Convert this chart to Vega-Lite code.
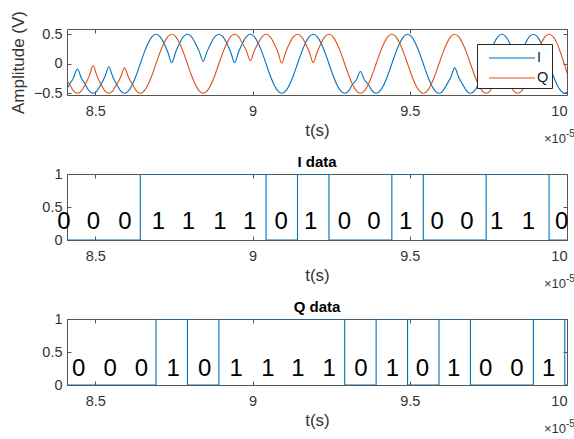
{
  "$schema": "https://vega.github.io/schema/vega-lite/v6.json",
  "padding": {"top": 10, "left": 8, "right": 0, "bottom": 0},
  "background": "white",
  "spacing": 7,
  "config": {
    "font": "Liberation Sans",
    "view": {"stroke": "#555555", "strokeWidth": 1},
    "axis": {"grid": false, "domain": false, "tickColor": "#555555", "tickSize": -4, "labelColor": "#333333", "labelFont": "Liberation Sans", "labelFontSize": 14.5, "titleFont": "Liberation Sans", "titleFontWeight": "normal", "titleColor": "#333333", "titleFontSize": 17},
    "title": {"font": "Liberation Sans", "fontSize": 15, "fontWeight": "bold", "color": "#000000", "offset": -4}
  },
  "datasets": {
    "wave": [
      {"t":8.393,"I":-0.5,"Q":-0.06},
      {"t":8.4055,"I":-0.46,"Q":-0.23},{"t":8.418,"I":-0.35,"Q":-0.35},{"t":8.4305,"I":-0.24,"Q":-0.46},{"t":8.443,"I":-0.09,"Q":-0.5},{"t":8.4555,"I":-0.24,"Q":-0.46},{"t":8.468,"I":-0.35,"Q":-0.35},{"t":8.4805,"I":-0.46,"Q":-0.21},{"t":8.493,"I":-0.5,"Q":-0.03},
      {"t":8.5055,"I":-0.46,"Q":-0.21},{"t":8.518,"I":-0.35,"Q":-0.35},{"t":8.5305,"I":-0.22,"Q":-0.46},{"t":8.543,"I":-0.05,"Q":-0.5},{"t":8.5555,"I":-0.22,"Q":-0.46},{"t":8.568,"I":-0.35,"Q":-0.35},{"t":8.5805,"I":-0.46,"Q":-0.23},{"t":8.593,"I":-0.5,"Q":-0.07},
      {"t":8.6055,"I":-0.46,"Q":-0.23},{"t":8.618,"I":-0.35,"Q":-0.35},{"t":8.6305,"I":-0.19,"Q":-0.46},{"t":8.643,"I":0,"Q":-0.5},{"t":8.6555,"I":0.19,"Q":-0.46},{"t":8.668,"I":0.35,"Q":-0.35},{"t":8.6805,"I":0.46,"Q":-0.19},{"t":8.693,"I":0.5,"Q":0},
      {"t":8.7055,"I":0.46,"Q":0.19},{"t":8.718,"I":0.35,"Q":0.35},{"t":8.7305,"I":0.2,"Q":0.46},{"t":8.743,"I":0.02,"Q":0.5},{"t":8.7555,"I":0.2,"Q":0.46},{"t":8.768,"I":0.35,"Q":0.35},{"t":8.7805,"I":0.46,"Q":0.19},{"t":8.793,"I":0.5,"Q":0},
      {"t":8.8055,"I":0.46,"Q":-0.19},{"t":8.818,"I":0.35,"Q":-0.35},{"t":8.8305,"I":0.21,"Q":-0.46},{"t":8.843,"I":0.04,"Q":-0.5},{"t":8.8555,"I":0.21,"Q":-0.46},{"t":8.868,"I":0.35,"Q":-0.35},{"t":8.8805,"I":0.46,"Q":-0.19},{"t":8.893,"I":0.5,"Q":0},
      {"t":8.9055,"I":0.46,"Q":0.19},{"t":8.918,"I":0.35,"Q":0.35},{"t":8.9305,"I":0.2,"Q":0.46},{"t":8.943,"I":0.02,"Q":0.5},{"t":8.9555,"I":0.2,"Q":0.46},{"t":8.968,"I":0.35,"Q":0.35},{"t":8.9805,"I":0.46,"Q":0.22},{"t":8.993,"I":0.5,"Q":0.05},
      {"t":9.0055,"I":0.46,"Q":0.22},{"t":9.018,"I":0.35,"Q":0.35},{"t":9.0305,"I":0.19,"Q":0.46},{"t":9.043,"I":0,"Q":0.5},{"t":9.0555,"I":-0.19,"Q":0.46},{"t":9.068,"I":-0.35,"Q":0.35},{"t":9.0805,"I":-0.46,"Q":0.2},{"t":9.093,"I":-0.5,"Q":0.01},
      {"t":9.1055,"I":-0.46,"Q":0.2},{"t":9.118,"I":-0.35,"Q":0.35},{"t":9.1305,"I":-0.19,"Q":0.46},{"t":9.143,"I":0,"Q":0.5},{"t":9.1555,"I":0.19,"Q":0.46},{"t":9.168,"I":0.35,"Q":0.35},{"t":9.1805,"I":0.46,"Q":0.2},{"t":9.193,"I":0.5,"Q":0.02},
      {"t":9.2055,"I":0.46,"Q":0.2},{"t":9.218,"I":0.35,"Q":0.35},{"t":9.2305,"I":0.19,"Q":0.46},{"t":9.243,"I":0,"Q":0.5},{"t":9.2555,"I":-0.19,"Q":0.46},{"t":9.268,"I":-0.35,"Q":0.35},{"t":9.2805,"I":-0.46,"Q":0.19},{"t":9.293,"I":-0.5,"Q":0},
      {"t":9.3055,"I":-0.46,"Q":-0.19},{"t":9.318,"I":-0.35,"Q":-0.35},{"t":9.3305,"I":-0.27,"Q":-0.46},{"t":9.343,"I":-0.13,"Q":-0.5},{"t":9.3555,"I":-0.27,"Q":-0.46},{"t":9.368,"I":-0.35,"Q":-0.35},{"t":9.3805,"I":-0.46,"Q":-0.19},{"t":9.393,"I":-0.5,"Q":0},
      {"t":9.4055,"I":-0.46,"Q":0.19},{"t":9.418,"I":-0.35,"Q":0.35},{"t":9.4305,"I":-0.19,"Q":0.46},{"t":9.443,"I":0,"Q":0.5},{"t":9.4555,"I":0.19,"Q":0.46},{"t":9.468,"I":0.35,"Q":0.35},{"t":9.4805,"I":0.46,"Q":0.19},{"t":9.493,"I":0.5,"Q":0},
      {"t":9.5055,"I":0.46,"Q":-0.19},{"t":9.518,"I":0.35,"Q":-0.35},{"t":9.5305,"I":0.19,"Q":-0.46},{"t":9.543,"I":0,"Q":-0.5},{"t":9.5555,"I":-0.19,"Q":-0.46},{"t":9.568,"I":-0.35,"Q":-0.35},{"t":9.5805,"I":-0.46,"Q":-0.19},{"t":9.593,"I":-0.5,"Q":0},
      {"t":9.6055,"I":-0.46,"Q":0.19},{"t":9.618,"I":-0.35,"Q":0.35},{"t":9.6305,"I":-0.23,"Q":0.46},{"t":9.643,"I":-0.07,"Q":0.5},{"t":9.6555,"I":-0.23,"Q":0.46},{"t":9.668,"I":-0.35,"Q":0.35},{"t":9.6805,"I":-0.46,"Q":0.19},{"t":9.693,"I":-0.5,"Q":0},
      {"t":9.7055,"I":-0.46,"Q":-0.19},{"t":9.718,"I":-0.35,"Q":-0.35},{"t":9.7305,"I":-0.19,"Q":-0.46},{"t":9.743,"I":0,"Q":-0.5},{"t":9.7555,"I":0.19,"Q":-0.46},{"t":9.768,"I":0.35,"Q":-0.35},{"t":9.7805,"I":0.46,"Q":-0.23},{"t":9.793,"I":0.5,"Q":-0.06},
      {"t":9.8055,"I":0.46,"Q":-0.23},{"t":9.818,"I":0.35,"Q":-0.35},{"t":9.8305,"I":0.2,"Q":-0.46},{"t":9.843,"I":0.03,"Q":-0.5},{"t":9.8555,"I":0.2,"Q":-0.46},{"t":9.868,"I":0.35,"Q":-0.35},{"t":9.8805,"I":0.46,"Q":-0.19},{"t":9.893,"I":0.5,"Q":0},
      {"t":9.9055,"I":0.46,"Q":0.19},{"t":9.918,"I":0.35,"Q":0.35},{"t":9.9305,"I":0.19,"Q":0.46},{"t":9.943,"I":0,"Q":0.5},{"t":9.9555,"I":-0.19,"Q":0.46},{"t":9.968,"I":-0.35,"Q":0.35},{"t":9.9805,"I":-0.46,"Q":0.17},{"t":9.993,"I":-0.5,"Q":-0.03},
      {"t":10.0055,"I":-0.46,"Q":-0.25}
    ],
    "istairs": [
      {"t":8.343,"bit":0},{"t":8.443,"bit":0},{"t":8.543,"bit":0},{"t":8.643,"bit":1},{"t":8.743,"bit":1},{"t":8.843,"bit":1},{"t":8.943,"bit":1},{"t":9.043,"bit":0},{"t":9.143,"bit":1},{"t":9.243,"bit":0},{"t":9.343,"bit":0},{"t":9.443,"bit":1},{"t":9.543,"bit":0},{"t":9.643,"bit":0},{"t":9.743,"bit":1},{"t":9.843,"bit":1},{"t":9.943,"bit":0},{"t":10.043,"bit":0}
    ],
    "qstairs": [
      {"t":8.293,"bit":0},{"t":8.393,"bit":0},{"t":8.493,"bit":0},{"t":8.593,"bit":0},{"t":8.693,"bit":1},{"t":8.793,"bit":0},{"t":8.893,"bit":1},{"t":8.993,"bit":1},{"t":9.093,"bit":1},{"t":9.193,"bit":1},{"t":9.293,"bit":0},{"t":9.393,"bit":1},{"t":9.493,"bit":0},{"t":9.593,"bit":1},{"t":9.693,"bit":0},{"t":9.793,"bit":0},{"t":9.893,"bit":1},{"t":9.993,"bit":0},{"t":10.093,"bit":0}
    ],
    "ilabels": [
      {"t":8.4,"bit":0},{"t":8.494,"bit":0},{"t":8.594,"bit":0},{"t":8.701,"bit":1},{"t":8.796,"bit":1},{"t":8.896,"bit":1},{"t":8.991,"bit":1},{"t":9.091,"bit":0},{"t":9.185,"bit":1},{"t":9.292,"bit":0},{"t":9.386,"bit":0},{"t":9.487,"bit":1},{"t":9.587,"bit":0},{"t":9.682,"bit":0},{"t":9.776,"bit":1},{"t":9.877,"bit":1},{"t":9.983,"bit":0}
    ],
    "qlabels": [
      {"t":8.447,"bit":0},{"t":8.547,"bit":0},{"t":8.647,"bit":0},{"t":8.748,"bit":1},{"t":8.848,"bit":0},{"t":8.948,"bit":1},{"t":9.049,"bit":1},{"t":9.144,"bit":1},{"t":9.244,"bit":1},{"t":9.345,"bit":0},{"t":9.445,"bit":1},{"t":9.54,"bit":0},{"t":9.64,"bit":1},{"t":9.741,"bit":0},{"t":9.841,"bit":0},{"t":9.942,"bit":1}
    ]
  },
  "vconcat": [
    {
      "width": 500,
      "height": 66,
      "layer": [
        {
          "data": {"name": "wave"},
          "transform": [{"fold": ["I", "Q"], "as": ["series", "v"]}],
          "mark": {"type": "line", "interpolate": "monotone", "clip": true, "strokeWidth": 1.1},
          "encoding": {
            "x": {"field": "t", "type": "quantitative", "scale": {"domain": [8.41, 10], "nice": false, "zero": false},
              "axis": {"values": [8.5, 9, 9.5, 10], "format": "~g", "title": "t(s)", "labelPadding": 13.5, "titlePadding": 4}},
            "y": {"field": "v", "type": "quantitative", "scale": {"domain": [-0.53, 0.59], "nice": false, "zero": false},
              "axis": {"values": [-0.5, 0, 0.5], "format": "~g", "title": "Amplitude (V)", "labelPadding": 9, "titlePadding": 6}},
            "color": {"field": "series", "type": "nominal", "scale": {"domain": ["I", "Q"], "range": ["#0072BD", "#D95319"]},
              "legend": {"title": null, "orient": "top-right", "offset": 15, "symbolType": "M-2.3,0H2.3", "symbolSize": 400, "symbolOffset": 21, "symbolStrokeWidth": 1.2, "labelFontSize": 14.5, "labelColor": "#1a1a1a", "labelOffset": 14, "strokeColor": "#262626", "fillColor": "#ffffff", "padding": 3, "rowPadding": 2, "labelFont": "Liberation Sans"}}
          }
        },
        {
          "data": {"name": "wave"},
          "mark": {"type": "line", "opacity": 0},
          "encoding": {
            "x": {"field": "t", "type": "quantitative", "axis": {"orient": "top", "labels": false, "title": null, "values": [8.5, 9, 9.5, 10]}},
            "y": {"field": "I", "type": "quantitative", "axis": {"orient": "right", "labels": false, "title": null, "values": [-0.5, 0, 0.5]}}
          }
        },
        {
          "data": {"values": [{}]},
          "mark": {"type": "text", "text": "×10", "align": "right", "baseline": "middle", "fontSize": 13, "dx": -1, "color": "#333333"},
          "encoding": {"x": {"datum": 10, "type": "quantitative", "axis": null}, "y": {"datum": -1.28, "type": "quantitative", "axis": null}}
        },
        {
          "data": {"values": [{}]},
          "mark": {"type": "text", "text": "-5", "align": "left", "baseline": "middle", "fontSize": 10, "dx": -1, "dy": -5, "color": "#333333"},
          "encoding": {"x": {"datum": 10, "type": "quantitative", "axis": null}, "y": {"datum": -1.28, "type": "quantitative", "axis": null}}
        }
      ],
      "resolve": {"axis": {"x": "independent", "y": "independent"}}
    },
    {
      "title": {"text": "I data"},
      "width": 500,
      "height": 66,
      "layer": [
        {
          "data": {"name": "istairs"},
          "mark": {"type": "line", "interpolate": "step-after", "clip": true, "color": "#0072BD", "strokeWidth": 1.1},
          "encoding": {
            "x": {"field": "t", "type": "quantitative", "scale": {"domain": [8.41, 10], "nice": false, "zero": false},
              "axis": {"values": [8.5, 9, 9.5, 10], "format": "~g", "title": "t(s)", "labelPadding": 13.5, "titlePadding": 4}},
            "y": {"field": "bit", "type": "quantitative", "scale": {"domain": [0, 1], "nice": false},
              "axis": {"values": [0, 0.5, 1], "format": "~g", "title": null, "labelPadding": 9}}
          }
        },
        {
          "data": {"name": "istairs"},
          "mark": {"type": "line", "opacity": 0},
          "encoding": {
            "x": {"field": "t", "type": "quantitative", "axis": {"orient": "top", "labels": false, "title": null, "values": [8.5, 9, 9.5, 10]}},
            "y": {"field": "bit", "type": "quantitative", "axis": {"orient": "right", "labels": false, "title": null, "values": [0, 0.5, 1]}}
          }
        },
        {
          "data": {"name": "ilabels"},
          "mark": {"type": "text", "fontSize": 24, "baseline": "middle", "align": "center", "color": "#000000"},
          "encoding": {
            "x": {"field": "t", "type": "quantitative", "axis": null},
            "y": {"datum": 0.27, "type": "quantitative", "axis": null},
            "text": {"field": "bit", "type": "nominal"}
          }
        },
        {
          "data": {"values": [{}]},
          "mark": {"type": "text", "text": "×10", "align": "right", "baseline": "middle", "fontSize": 13, "dx": -1, "color": "#333333"},
          "encoding": {"x": {"datum": 10, "type": "quantitative", "axis": null}, "y": {"datum": -0.667, "type": "quantitative", "axis": null}}
        },
        {
          "data": {"values": [{}]},
          "mark": {"type": "text", "text": "-5", "align": "left", "baseline": "middle", "fontSize": 10, "dx": -1, "dy": -5, "color": "#333333"},
          "encoding": {"x": {"datum": 10, "type": "quantitative", "axis": null}, "y": {"datum": -0.667, "type": "quantitative", "axis": null}}
        }
      ],
      "resolve": {"axis": {"x": "independent", "y": "independent"}}
    },
    {
      "title": {"text": "Q data"},
      "width": 500,
      "height": 66,
      "layer": [
        {
          "data": {"name": "qstairs"},
          "mark": {"type": "line", "interpolate": "step-after", "clip": true, "color": "#0072BD", "strokeWidth": 1.1},
          "encoding": {
            "x": {"field": "t", "type": "quantitative", "scale": {"domain": [8.41, 10], "nice": false, "zero": false},
              "axis": {"values": [8.5, 9, 9.5, 10], "format": "~g", "title": "t(s)", "labelPadding": 13.5, "titlePadding": 4}},
            "y": {"field": "bit", "type": "quantitative", "scale": {"domain": [0, 1], "nice": false},
              "axis": {"values": [0, 0.5, 1], "format": "~g", "title": null, "labelPadding": 9}}
          }
        },
        {
          "data": {"name": "qstairs"},
          "mark": {"type": "line", "opacity": 0},
          "encoding": {
            "x": {"field": "t", "type": "quantitative", "axis": {"orient": "top", "labels": false, "title": null, "values": [8.5, 9, 9.5, 10]}},
            "y": {"field": "bit", "type": "quantitative", "axis": {"orient": "right", "labels": false, "title": null, "values": [0, 0.5, 1]}}
          }
        },
        {
          "data": {"name": "qlabels"},
          "mark": {"type": "text", "fontSize": 24, "baseline": "middle", "align": "center", "color": "#000000"},
          "encoding": {
            "x": {"field": "t", "type": "quantitative", "axis": null},
            "y": {"datum": 0.24, "type": "quantitative", "axis": null},
            "text": {"field": "bit", "type": "nominal"}
          }
        },
        {
          "data": {"values": [{}]},
          "mark": {"type": "text", "text": "×10", "align": "right", "baseline": "middle", "fontSize": 13, "dx": -1, "color": "#333333"},
          "encoding": {"x": {"datum": 10, "type": "quantitative", "axis": null}, "y": {"datum": -0.667, "type": "quantitative", "axis": null}}
        },
        {
          "data": {"values": [{}]},
          "mark": {"type": "text", "text": "-5", "align": "left", "baseline": "middle", "fontSize": 10, "dx": -1, "dy": -5, "color": "#333333"},
          "encoding": {"x": {"datum": 10, "type": "quantitative", "axis": null}, "y": {"datum": -0.667, "type": "quantitative", "axis": null}}
        }
      ],
      "resolve": {"axis": {"x": "independent", "y": "independent"}}
    }
  ]
}
